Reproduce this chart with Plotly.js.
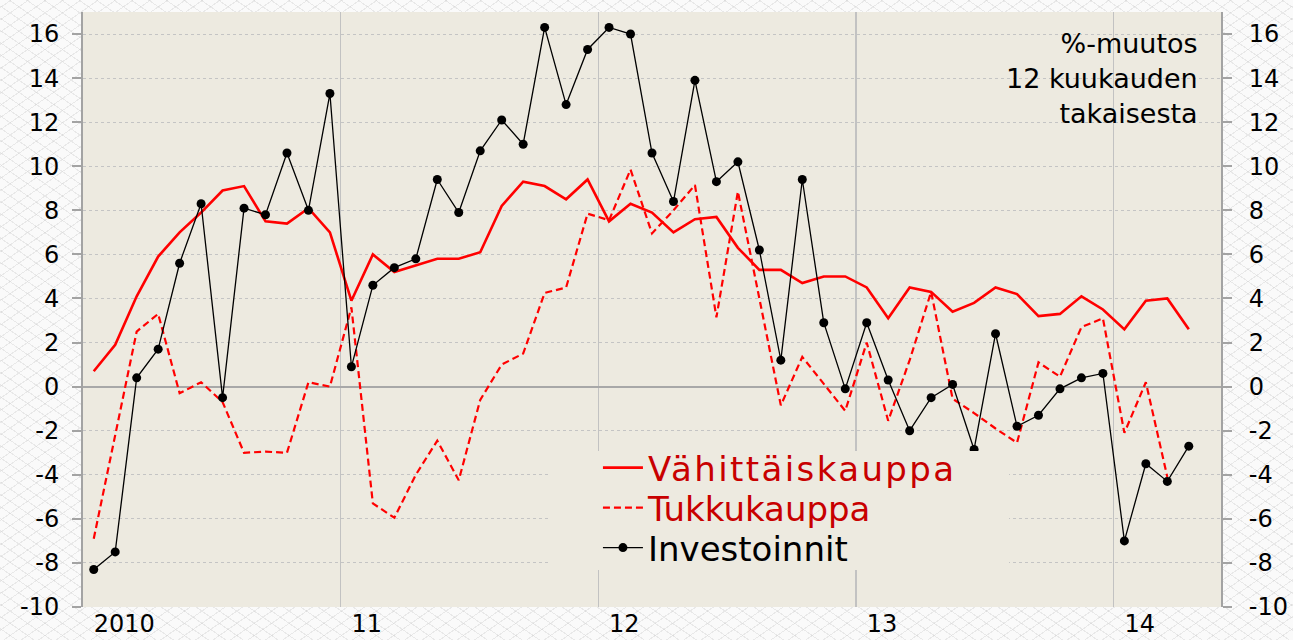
<!DOCTYPE html>
<html>
<head>
<meta charset="utf-8">
<script src="https://cdn.plot.ly/plotly-3.0.1.min.js"></script>
<style>
  html, body { margin: 0; padding: 0; }
  body {
    width: 1293px; height: 640px; overflow: hidden;
    background-color: #fafafa;
    background-image:
      repeating-linear-gradient(35deg, rgba(0,0,0,0) 0px, rgba(0,0,0,0) 9px, rgba(200,200,200,0.35) 9px, rgba(200,200,200,0.35) 10px),
      repeating-linear-gradient(-35deg, rgba(0,0,0,0) 0px, rgba(0,0,0,0) 9px, rgba(200,200,200,0.35) 9px, rgba(200,200,200,0.35) 10px);
  }
  #chart { width: 1293px; height: 640px; }
  #chart .legendtext { letter-spacing: 2.4px; }
</style>
</head>
<body>
<div id="chart"></div>
<script>
// Months from Jan 2010 to Apr 2014 (index 0..51)
const months = [
  'Jan 2010','Feb 2010','Mar 2010','Apr 2010','May 2010','Jun 2010','Jul 2010','Aug 2010','Sep 2010','Oct 2010','Nov 2010','Dec 2010',
  'Jan 2011','Feb 2011','Mar 2011','Apr 2011','May 2011','Jun 2011','Jul 2011','Aug 2011','Sep 2011','Oct 2011','Nov 2011','Dec 2011',
  'Jan 2012','Feb 2012','Mar 2012','Apr 2012','May 2012','Jun 2012','Jul 2012','Aug 2012','Sep 2012','Oct 2012','Nov 2012','Dec 2012',
  'Jan 2013','Feb 2013','Mar 2013','Apr 2013','May 2013','Jun 2013','Jul 2013','Aug 2013','Sep 2013','Oct 2013','Nov 2013','Dec 2013',
  'Jan 2014','Feb 2014','Mar 2014','Apr 2014'
];

// Vähittäiskauppa (retail trade), %-change y/y
const vahittais = [
  0.7, 1.9, 4.1, 5.9, 7.0, 7.9, 8.9, 9.1, 7.5, 7.4, 8.1, 7.0,
  3.9, 6.0, 5.2, 5.5, 5.8, 5.8, 6.1, 8.2, 9.3, 9.1, 8.5, 9.4,
  7.5, 8.3, 7.9, 7.0, 7.6, 7.7, 6.3, 5.3, 5.3, 4.7, 5.0, 5.0,
  4.5, 3.1, 4.5, 4.3, 3.4, 3.8, 4.5, 4.2, 3.2, 3.3, 4.1, 3.5,
  2.6, 3.9, 4.0, 2.6
];

// Tukkukauppa (wholesale trade)
const tukku = [
  -6.9, -2.2, 2.5, 3.3, -0.3, 0.2, -0.7, -3.0, -2.95, -3.0, 0.2, 0.0,
  3.6, -5.3, -5.95, -4.0, -2.45, -4.25, -0.6, 1.0, 1.5, 4.25, 4.5, 7.85,
  7.55, 9.85, 6.95, 8.0, 9.15, 3.15, 8.85, 4.0, -0.85, 1.35, 0.1, -1.1,
  2.0, -1.55, 1.2, 4.3, -0.55, -1.2, -1.9, -2.55, 1.1, 0.45, 2.7, 3.1,
  -2.1, 0.2, -4.1, null
];

// Investoinnit (investments)
const investoinnit = [
  -8.3, -7.5, 0.4, 1.7, 5.6, 8.3, -0.5, 8.1, 7.8, 10.6, 8.0, 13.3,
  0.9, 4.6, 5.4, 5.8, 9.4, 7.9, 10.7, 12.1, 11.0, 16.3, 12.8, 15.3,
  16.3, 16.0, 10.6, 8.4, 13.9, 9.3, 10.2, 6.2, 1.2, 9.4, 2.9, -0.1,
  2.9, 0.3, -2.0, -0.5, 0.1, -2.85, 2.4, -1.8, -1.3, -0.1, 0.4, 0.6,
  -7.0, -3.5, -4.3, -2.7
];

const yearLabels = ['2010', '11', '12', '13', '14'];
const yTicks = [-10, -8, -6, -4, -2, 0, 2, 4, 6, 8, 10, 12, 14, 16];
const seriesNames = ['Vähittäiskauppa', 'Tukkukauppa', 'Investoinnit'];
const noteText = '%-muutos<br>12 kuukauden<br>takaisesta';

// x position of each month: middle of the month on a month-unit axis
const xs = months.map((m, i) => i + 0.5);
const yearStarts = yearLabels.map((y, i) => i * 12);             // year boundaries (gridlines)
const janPositions = yearLabels.map((y, i) => i * 12 + 0.5);     // label anchors (January)

const FONT = 'DejaVu Sans, Arial, sans-serif';
const PLOT_BG = '#edeae0';
const AXIS_GREY = '#a3a3a3';

const traces = [
  {
    x: xs, y: vahittais, name: seriesNames[0], type: 'scatter', mode: 'lines',
    line: { color: '#ff0000', width: 2.6 }, legend: 'legend', yaxis: 'y'
  },
  {
    x: xs, y: tukku, name: seriesNames[1], type: 'scatter', mode: 'lines',
    line: { color: '#ff0000', width: 2.2, dash: '7px,4px' }, legend: 'legend2', yaxis: 'y'
  },
  {
    x: xs, y: investoinnit, name: seriesNames[2], type: 'scatter', mode: 'lines+markers',
    line: { color: '#000000', width: 1.3 }, marker: { color: '#000000', size: 9 },
    legend: 'legend3', yaxis: 'y2'
  }
];

const yCommon = {
  range: [-10, 17],
  tickmode: 'array', tickvals: yTicks, ticktext: yTicks.map(String),
  ticks: 'outside', ticklen: 9, tickwidth: 2, tickcolor: AXIS_GREY,
  showline: true, linecolor: AXIS_GREY, linewidth: 2,
  tickfont: { family: FONT, size: 24, color: '#000' },
  fixedrange: true
};

function legendBox(yPos, color) {
  return {
    orientation: 'h', entrywidth: 380, entrywidthmode: 'pixels',
    x: 0.4525, xanchor: 'left', y: yPos, yanchor: 'middle',
    bgcolor: 'rgba(0,0,0,0)', borderwidth: 0, itemwidth: 40,
    font: { family: FONT, size: 34, color: color }
  };
}

const layout = {
  width: 1293, height: 640,
  margin: { l: 83, r: 72, t: 12, b: 33, pad: 0 },
  paper_bgcolor: 'rgba(0,0,0,0)',
  plot_bgcolor: PLOT_BG,
  showlegend: true,
  xaxis: {
    range: [0, 53],
    tickmode: 'array', tickvals: janPositions, ticktext: yearLabels,
    ticklabelposition: 'outside right',
    ticks: '', showgrid: false, zeroline: false, showline: false,
    tickfont: { family: FONT, size: 24, color: '#000' },
    minor: { tickmode: 'array', tickvals: yearStarts, showgrid: true, gridcolor: '#c2c2c2', gridwidth: 1.5, ticks: '' },
    fixedrange: true
  },
  yaxis: Object.assign({}, yCommon, {
    side: 'left',
    showgrid: true, gridcolor: '#c4c4c4', gridwidth: 1, griddash: 'dot',
    zeroline: true, zerolinecolor: '#a8a8a8', zerolinewidth: 2,
    ticklabelstandoff: 8
  }),
  yaxis2: Object.assign({}, yCommon, {
    side: 'right', overlaying: 'y', anchor: 'x',
    showgrid: false, zeroline: false,
    ticklabelstandoff: 12
  }),
  legend: legendBox(0.2336, '#c80000'),
  legend2: legendBox(0.1664, '#c80000'),
  legend3: legendBox(0.0992, '#000000'),
  shapes: [
    { // backdrop behind the legend block (hides gridlines there)
      type: 'rect', xref: 'paper', yref: 'paper',
      x0: 0.4104, x1: 0.8137, y0: 0.0622, y1: 0.2622,
      fillcolor: PLOT_BG, line: { width: 0 }, layer: 'above'
    }
  ],
  annotations: [
    {
      text: noteText, xref: 'paper', yref: 'paper', x: 0.9815, y: 0.889,
      xanchor: 'right', yanchor: 'middle', align: 'right', showarrow: false,
      font: { family: FONT, size: 27, color: '#000' }
    }
  ]
};

Plotly.newPlot('chart', traces, layout, { staticPlot: true, displayModeBar: false });
</script>
</body>
</html>
